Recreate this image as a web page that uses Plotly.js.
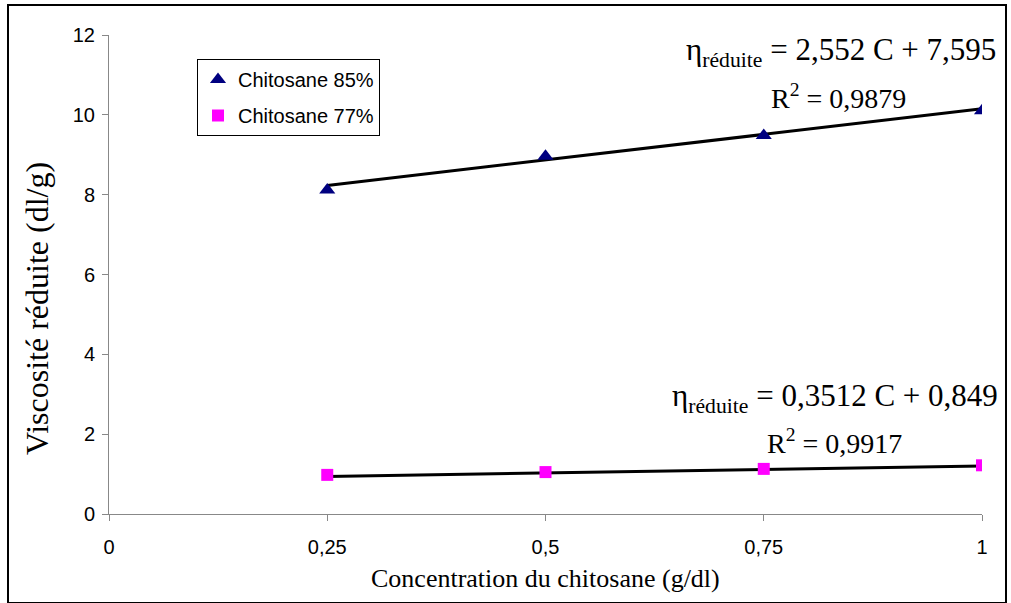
<!DOCTYPE html>
<html>
<head>
<meta charset="utf-8">
<script src="https://cdn.plot.ly/plotly-3.0.1.min.js"></script>
<style>
html,body{margin:0;padding:0;background:#fff;}
#wrap{position:relative;width:1011px;height:603px;}
#chart{width:1011px;height:603px;}
#frame{position:absolute;left:7px;top:4px;width:1000px;height:600px;border:2px solid #000;box-sizing:border-box;pointer-events:none;}
</style>
</head>
<body>
<div id="wrap"><div id="chart"></div><div id="frame"></div></div>
<script>
// Data
const concentration = [0.25, 0.5, 0.75, 1];
const chitosane85 = [8.12, 8.96, 9.48, 10.1];
const chitosane77 = [0.98, 1.05, 1.13, 1.22];
const fitX = [0.25, 1];
const fit85 = [8.23, 10.15];
const fit77 = [0.94, 1.20];
const xTickVals = [0, 0.25, 0.5, 0.75, 1];
const xTickText = ["0", "0,25", "0,5", "0,75", "1"];
const yTickVals = [0, 2, 4, 6, 8, 10, 12];

const serif = "Liberation Serif, Times New Roman, serif";
const sans = "Liberation Sans, Arial, sans-serif";

const traces = [
  {x: fitX, y: fit85, mode: 'lines', line: {color: '#000', width: 3}, showlegend: false, hoverinfo: 'skip'},
  {x: fitX, y: fit77, mode: 'lines', line: {color: '#000', width: 3}, showlegend: false, hoverinfo: 'skip'},
  {x: concentration, y: chitosane85, mode: 'markers', name: 'Chitosane 85%', legendgroup: 'a',
   marker: {symbol: 'triangle-up', color: '#000080', size: 14}},
  {x: concentration, y: chitosane77, mode: 'markers', name: 'Chitosane 77%', legendgroup: 'b',
   marker: {symbol: 'square', color: '#FF00FF', size: 12}}
];

const px = (p) => (p - 109) / 873;
const py = (p) => 1 - (p - 35) / 479;

const layout = {
  width: 1011, height: 603,
  margin: {l: 109, r: 29, t: 35, b: 89, autoexpand: false},
  paper_bgcolor: '#fff', plot_bgcolor: '#fff',
  showlegend: true,
  legend: {x: px(197), y: py(59), xanchor: 'left', yanchor: 'top',
    bgcolor: '#fff', bordercolor: '#000', borderwidth: 1,
    font: {family: sans, size: 20, color: '#000'}, tracegroupgap: 7, itemwidth: 30},
  xaxis: {range: [0, 1], tickvals: xTickVals, ticktext: xTickText, showgrid: false, zeroline: false,
    automargin: false,
    showline: true, linecolor: '#888', linewidth: 1, ticks: 'outside', ticklen: 6, tickcolor: '#888',
    ticklabelstandoff: 9,
    tickfont: {family: sans, size: 20, color: '#000'}},
  yaxis: {range: [0, 12], tickvals: yTickVals, showgrid: false, zeroline: false,
    automargin: false,
    showline: true, linecolor: '#888', linewidth: 1, ticks: 'outside', ticklen: 6, tickcolor: '#888',
    ticklabelstandoff: 3,
    tickfont: {family: sans, size: 20, color: '#000'}},
  annotations: [
    {xref: 'paper', yref: 'paper', x: px(37), y: py(309), textangle: -90, xanchor: 'center', yanchor: 'middle', showarrow: false,
     text: 'Viscosité réduite (dl/g)', font: {family: serif, size: 32, color: '#000'}},
    {xref: 'paper', yref: 'paper', x: px(545), y: py(578), xanchor: 'center', yanchor: 'middle', showarrow: false,
     text: 'Concentration du chitosane (g/dl)', font: {family: serif, size: 26, color: '#000'}},
    {xref: 'paper', yref: 'paper', x: px(998), y: py(52), xanchor: 'right', yanchor: 'middle', showarrow: false,
     text: 'η<sub>réduite</sub> = 2,552 C + 7,595', font: {family: serif, size: 31, color: '#000'}},
    {xref: 'paper', yref: 'paper', x: px(838), y: py(96), xanchor: 'center', yanchor: 'middle', showarrow: false,
     text: 'R<sup>2</sup> = 0,9879', font: {family: serif, size: 28, color: '#000'}},
    {xref: 'paper', yref: 'paper', x: px(1000), y: py(398), xanchor: 'right', yanchor: 'middle', showarrow: false,
     text: 'η<sub>réduite</sub> = 0,3512 C + 0,849', font: {family: serif, size: 31, color: '#000'}},
    {xref: 'paper', yref: 'paper', x: px(834), y: py(441), xanchor: 'center', yanchor: 'middle', showarrow: false,
     text: 'R<sup>2</sup> = 0,9917', font: {family: serif, size: 28, color: '#000'}}
  ]
};

Plotly.newPlot('chart', traces, layout, {staticPlot: true});
</script>
</body>
</html>
